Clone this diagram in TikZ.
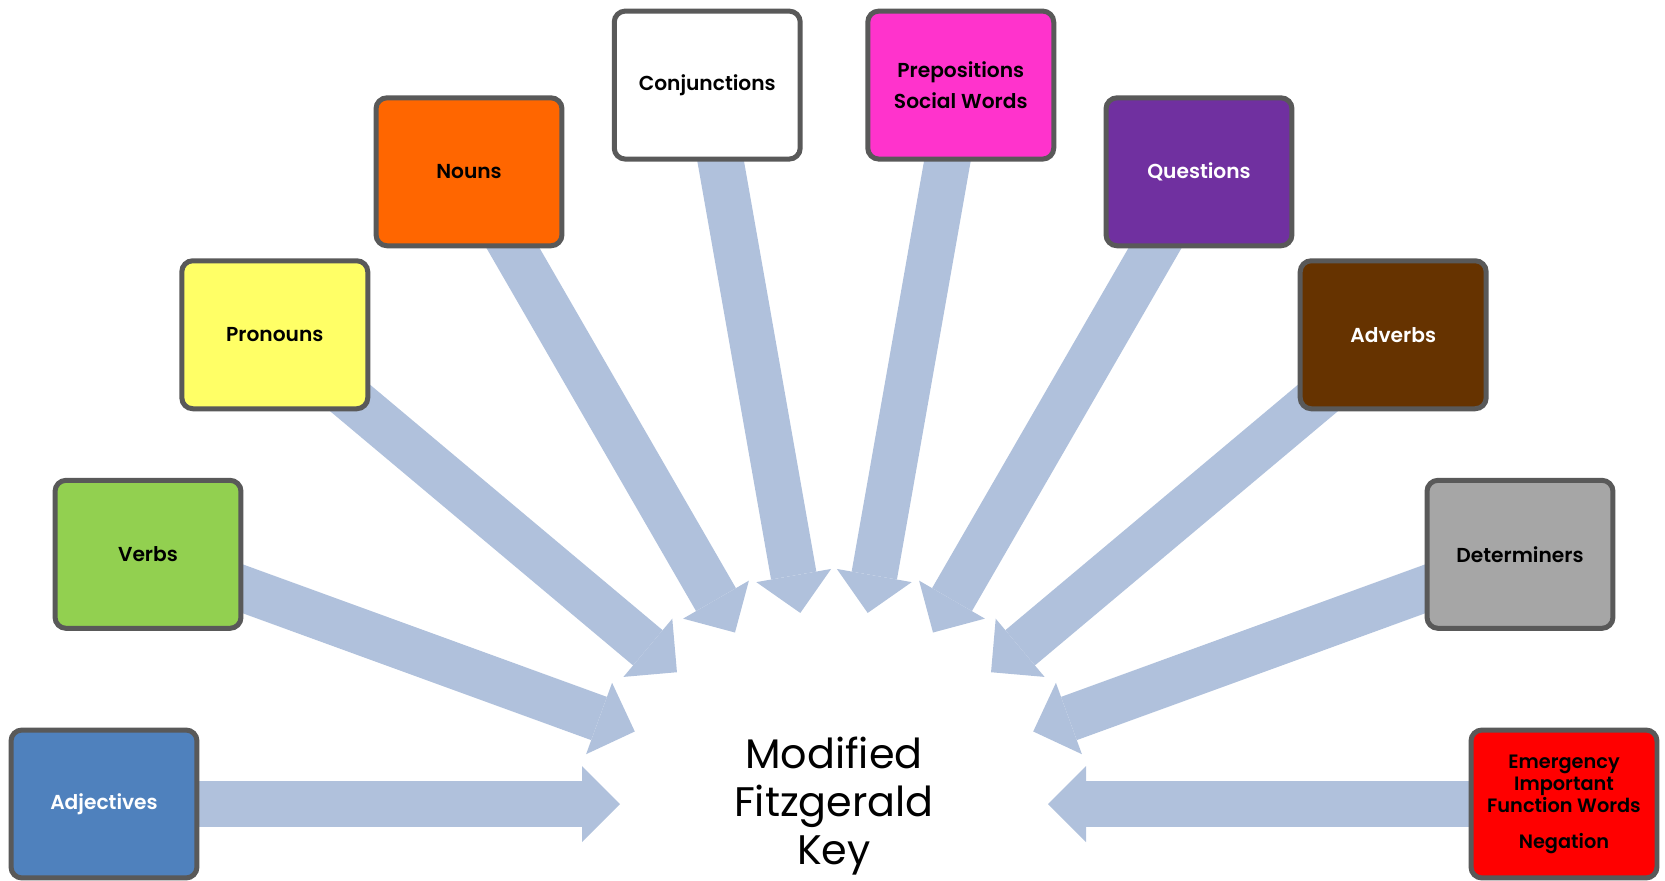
\documentclass[tikz,border=0pt]{standalone}
\usepackage{fontspec}
\setmainfont{Poppins}[BoldFont={Poppins SemiBold}]
\usetikzlibrary{arrows.meta,backgrounds}

\definecolor{arrowblue}{RGB}{176,193,220}
\definecolor{boxrim}{RGB}{89,89,89}
\definecolor{adjblue}{RGB}{79,129,189}
\definecolor{verbgreen}{RGB}{146,208,80}
\definecolor{pronyellow}{RGB}{255,255,102}
\definecolor{nounorange}{RGB}{255,102,0}
\definecolor{prepink}{RGB}{255,51,204}
\definecolor{questpurple}{RGB}{112,48,160}
\definecolor{advbrown}{RGB}{102,51,0}
\definecolor{detgray}{RGB}{166,166,166}

\begin{document}
\begin{tikzpicture}[x=0.02cm,y=0.02cm,
  wordbox/.style={draw=boxrim, line width=0.1cm, rounded corners=0.22cm,
    minimum width=3.72cm, minimum height=2.96cm, align=center,
    font=\bfseries\fontsize{11.5}{17.5}\selectfont},
  keyarrow/.style={draw=arrowblue, line width=0.92cm,
    -{Triangle[length=0.76cm,width=1.52cm,line width=0pt]}}]
\useasboundingbox (-834,-76) rectangle (831,804);

\node (key) at (0,-2) [align=center, font=\fontsize{23.5}{27.5}\selectfont] {Modified\\Fitzgerald\\Key};

\node [wordbox, fill=adjblue, text=white] (adj) at (180:730) {Adjectives};
\node [wordbox, fill=verbgreen] (verb) at (160:730) {Verbs};
\node [wordbox, fill=pronyellow] (pron) at (140:730) {Pronouns};
\node [wordbox, fill=nounorange] (noun) at (120:730) {Nouns};
\node [wordbox, fill=white] (conj) at (100:730) {Conjunctions};
\node [wordbox, fill=prepink] (prep) at (80:730) {Prepositions\\Social Words};
\node [wordbox, fill=questpurple, text=white] (quest) at (60:730) {Questions};
\node [wordbox, fill=advbrown, text=white] (adv) at (40:730) {Adverbs};
\node [wordbox, fill=detgray] (det) at (20:730) {Determiners};
\node [wordbox, fill=red, font=\bfseries\fontsize{11}{12.7}\selectfont] (emerg) at (0:730) {Emergency\\Important\\Function Words\\[7.5pt]Negation};

\coordinate (adj-tip) at (180:214);
\coordinate (verb-tip) at (160:212);
\coordinate (pron-tip) at (140:205);
\coordinate (noun-tip) at (120:198);
\coordinate (conj-tip) at (100:194);
\coordinate (prep-tip) at (80:194);
\coordinate (quest-tip) at (60:198);
\coordinate (adv-tip) at (40:205);
\coordinate (det-tip) at (20:212);
\coordinate (emerg-tip) at (0:214);

\begin{scope}[on background layer]
\draw [keyarrow] (adj.center) -- (adj-tip);
\draw [keyarrow] (verb.center) -- (verb-tip);
\draw [keyarrow] (pron.center) -- (pron-tip);
\draw [keyarrow] (noun.center) -- (noun-tip);
\draw [keyarrow] (conj.center) -- (conj-tip);
\draw [keyarrow] (prep.center) -- (prep-tip);
\draw [keyarrow] (quest.center) -- (quest-tip);
\draw [keyarrow] (adv.center) -- (adv-tip);
\draw [keyarrow] (det.center) -- (det-tip);
\draw [keyarrow] (emerg.center) -- (emerg-tip);
\end{scope}
\end{tikzpicture}
\end{document}
